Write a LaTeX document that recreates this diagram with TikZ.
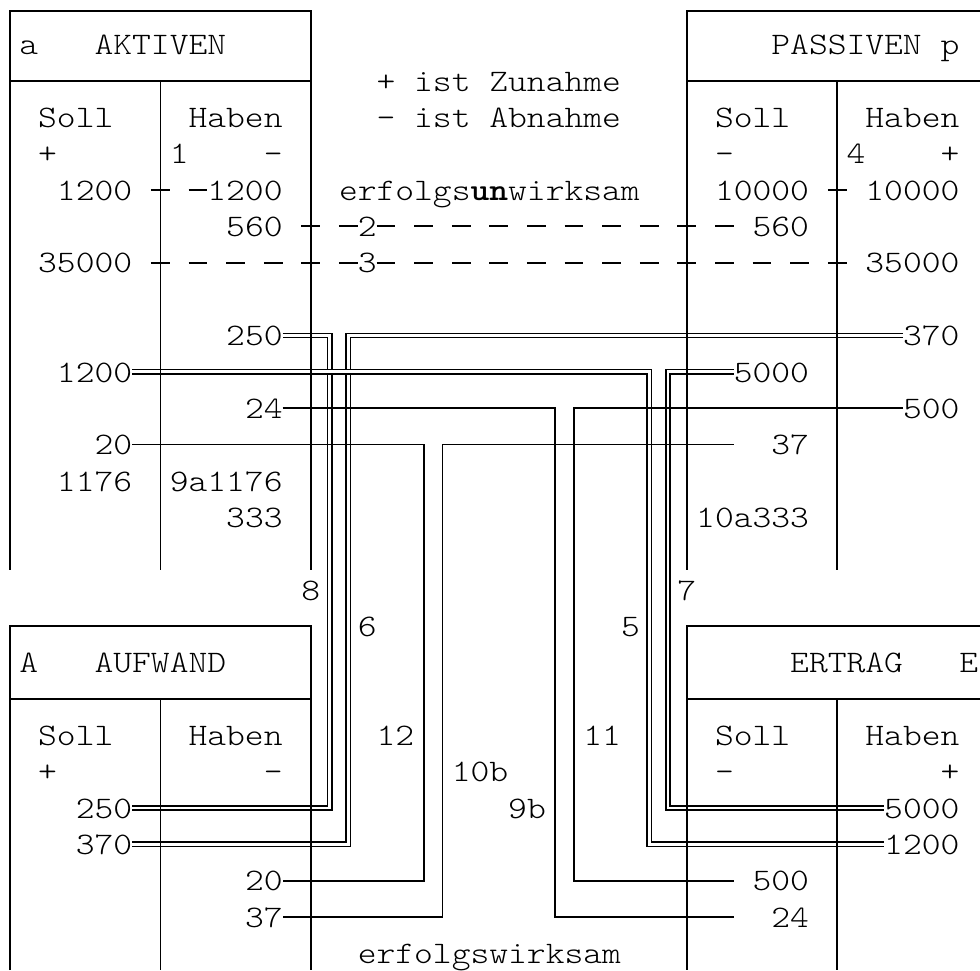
\documentclass[tikz,border=0pt]{standalone}
\usepackage{fontspec}
\newfontfamily\cour[Extension=.otf, UprightFont=*-regular, BoldFont=*-bold, FakeStretch=1.1429]{lmmonolt10}
\newcommand\T[4]{\node[txt] (#1) at ({#2-0.5},#3) {#4};}
\begin{document}
\begin{tikzpicture}[x=18.8pt,y=-36.35pt,
  boxline/.style={line width=1.8pt},
  dbl/.style={line width=1.5pt,double,double distance=2.9pt},
  sgl/.style={line width=1.8pt},
  dashconn/.style={line width=2pt,dash pattern=on 18.8pt off 18.8pt},
  txt/.style={anchor=west,inner sep=0pt,outer sep=0pt,text height=20.4pt,text depth=0pt,
    font=\fontsize{31.33pt}{36pt}\selectfont\cour}]
\useasboundingbox (-0.5319,-0.2283) rectangle (51.596,26.457);

% ---------- AKTIVEN ----------
\T{aA}{1}{1}{a}
\T{aTitle}{5}{1}{AKTIVEN}
\T{aSoll}{2}{3}{Soll}
\T{aHaben}{10}{3}{Haben}
\T{aPlus}{2}{4}{+}
\T{aOne}{9}{4}{1}
\T{aMinus}{14}{4}{-}
\T{a1200a}{3}{5}{1200}
\T{a1200b}{11}{5}{1200}
\T{a560}{12}{6}{560}
\T{a35000}{2}{7}{35000}
\T{a250}{12}{9}{250}
\T{a1200c}{3}{10}{1200}
\T{a24}{13}{11}{24}
\T{a20}{5}{12}{20}
\T{a1176}{3}{13}{1176}
\T{a9a}{9}{13}{9a1176}
\T{a333}{12}{14}{333}

% ---------- middle ----------
\T{mZu}{20}{2}{+ ist Zunahme}
\T{mAb}{20}{3}{- ist Abnahme}
\T{mUn}{18}{5}{erfolgs\textbf{un}wirksam}
\T{mTwo}{19}{6}{2}
\T{mThree}{19}{7}{3}
\T{lEight}{16}{16}{8}
\T{lSeven}{36}{16}{7}
\T{lSix}{19}{17}{6}
\T{lFive}{33}{17}{5}
\T{lTwelve}{20}{20}{12}
\T{lEleven}{31}{20}{11}
\T{lTenb}{24}{21}{10b}
\T{lNineb}{27}{22}{9b}
\T{mWirk}{19}{26}{erfolgswirksam}

% ---------- PASSIVEN ----------
\T{pTitle}{41}{1}{PASSIVEN}
\T{pP}{50}{1}{p}
\T{pSoll}{38}{3}{Soll}
\T{pHaben}{46}{3}{Haben}
\T{pMinus}{38}{4}{-}
\T{pFour}{45}{4}{4}
\T{pPlus}{50}{4}{+}
\T{p10000a}{38}{5}{10000}
\T{p10000b}{46}{5}{10000}
\T{p560}{40}{6}{560}
\T{p35000}{46}{7}{35000}
\T{p370}{48}{9}{370}
\T{p5000}{39}{10}{5000}
\T{p500}{48}{11}{500}
\T{p37}{41}{12}{37}
\T{p10a}{37}{14}{10a333}

% ---------- AUFWAND ----------
\T{fA}{1}{18}{A}
\T{fTitle}{5}{18}{AUFWAND}
\T{fSoll}{2}{20}{Soll}
\T{fHaben}{10}{20}{Haben}
\T{fPlus}{2}{21}{+}
\T{fMinus}{14}{21}{-}
\T{f250}{4}{22}{250}
\T{f370}{4}{23}{370}
\T{f20}{13}{24}{20}
\T{f37}{13}{25}{37}

% ---------- ERTRAG ----------
\T{eTitle}{42}{18}{ERTRAG}
\T{eE}{51}{18}{E}
\T{eSoll}{38}{20}{Soll}
\T{eHaben}{46}{20}{Haben}
\T{eMinus}{38}{21}{-}
\T{ePlus}{50}{21}{+}
\T{e5000}{47}{22}{5000}
\T{e1200}{47}{23}{1200}
\T{e500}{40}{24}{500}
\T{e24}{41}{25}{24}

% ---------- erfolgsunwirksam (dashed) ----------
\draw[dashconn] ([xshift=18.8pt]a1200a.east) -- (a1200b.west);
\draw[dashconn] ([xshift=18.8pt]p10000a.east) -- ([xshift=-18.8pt]p10000b.west);
\draw[dashconn] ([xshift=18.8pt]a560.east) -- ([xshift=-18.8pt]p560.west);
\draw[dashconn] ([xshift=18.8pt]a35000.east) -- ([xshift=-18.8pt]p35000.west);

% ---------- double connectors ----------
\draw[dbl] (a250.east) -| (17,22) -- (f250.east);
\draw[dbl] (p370.west) -| (18,23) -- (f370.east);
\draw[dbl] (p5000.west) -| (35,22) -- (e5000.west);
\draw[dbl] (a1200c.east) -| (34,23) -- (e1200.west);

% ---------- single connectors ----------
\draw[sgl] (a24.east) -| (29,25) -- ([xshift=-37.6pt]e24.west);
\draw[sgl] (p500.west) -| (30,24) -- ([xshift=-18.8pt]e500.west);
\draw[sgl] (a20.east) -| (22,24) -- (f20.east);
\draw[sgl] ([xshift=-37.6pt]p37.west) -| (23,25) -- (f37.east);

% ---------- account boxes ----------
\draw[boxline] (0,15.45) -- (0,0.07) -- (16,0.07) -- (16,15.45);
\draw[boxline] (0,2) -- (16,2) (8,2) -- (8,15.45);
\draw[boxline] (51.6,0.07) -- (36,0.07) -- (36,15.45);
\draw[boxline] (36,2) -- (51.6,2) (44,2) -- (44,15.45);
\draw[boxline] (0,26.457) -- (0,17) -- (16,17) -- (16,26.457);
\draw[boxline] (0,19) -- (16,19) (8,19) -- (8,26.457);
\draw[boxline] (51.6,17) -- (36,17) -- (36,26.457);
\draw[boxline] (36,19) -- (51.6,19) (44,19) -- (44,26.457);
\end{tikzpicture}
\end{document}
